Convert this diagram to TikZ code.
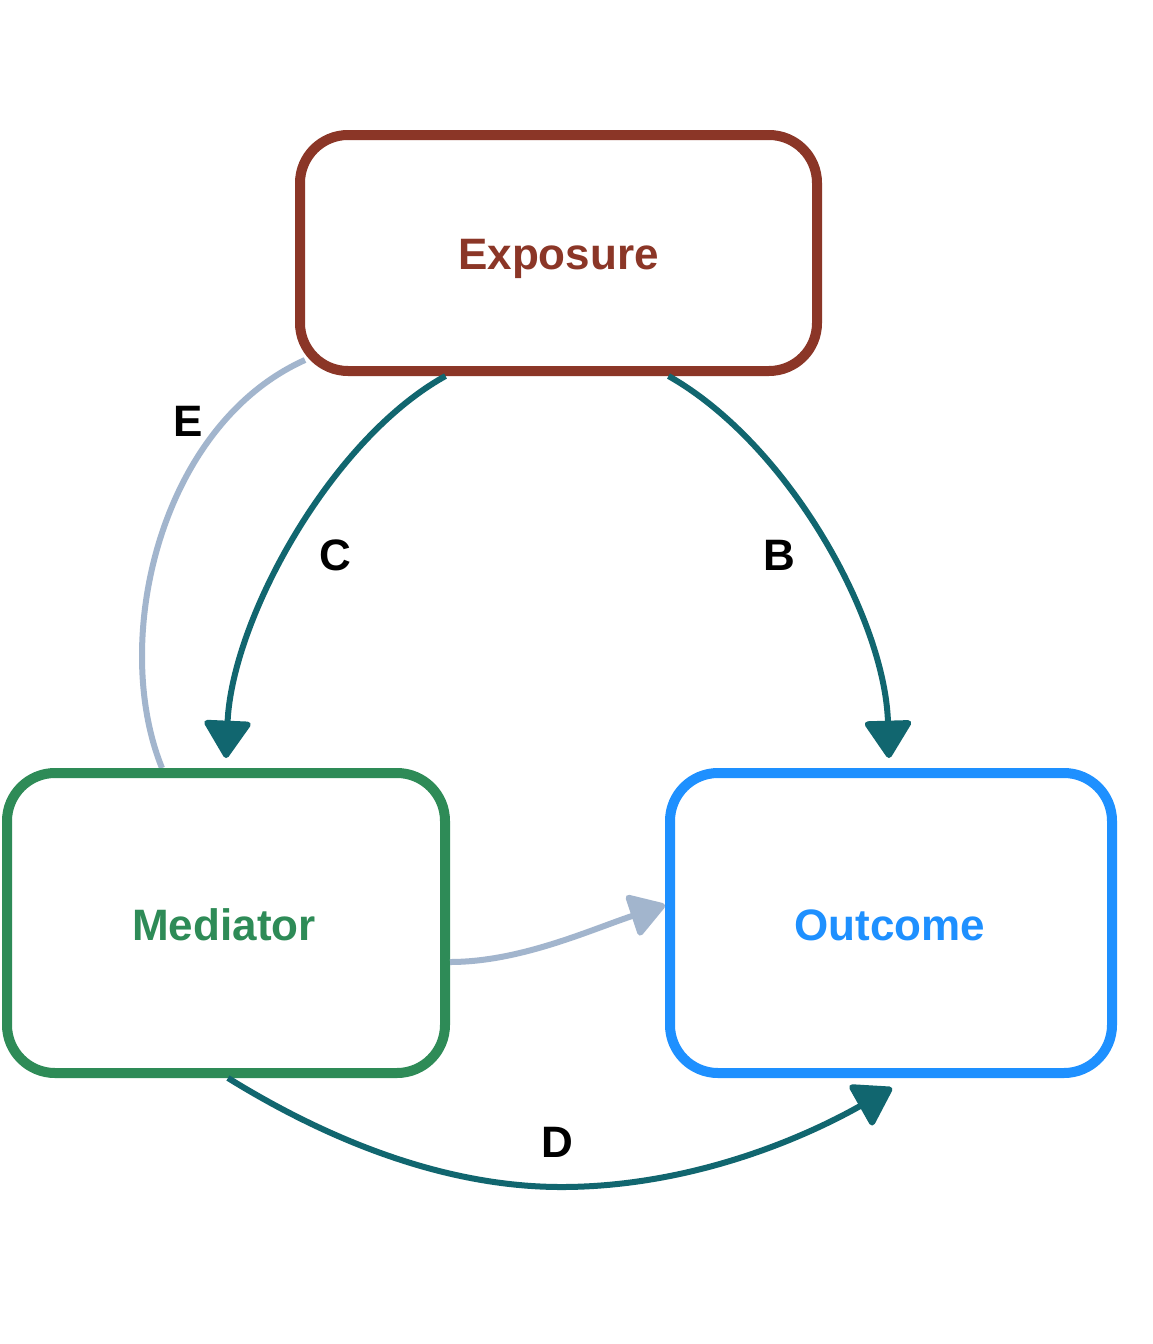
\documentclass[tikz,border=0pt]{standalone}
\usepackage{fontspec}
\setmainfont{Liberation Sans}
\usetikzlibrary{arrows.meta}
\definecolor{expc}{HTML}{8B3627}
\definecolor{medc}{HTML}{2E8B57}
\definecolor{outc}{HTML}{1E90FF}
\definecolor{teal}{HTML}{11666F}
\definecolor{lite}{HTML}{A2B5CD}
\begin{document}
\begin{tikzpicture}[x=1pt,y=-1pt,
  box/.style={draw,line width=10pt,rounded corners=48pt,fill=white,
    font=\fontsize{44}{48}\selectfont\bfseries},
  lbl/.style={font=\fontsize{44}{48}\selectfont\bfseries,text=black},
  main/.style={draw=teal,line width=6pt,
    -{Triangle[length=40pt,width=50pt,round]}},
  light/.style={draw=lite,line width=6pt},
  lighta/.style={light,-{Triangle[length=38pt,width=46pt,round]}}]
\useasboundingbox (0,0) rectangle (1152,1344);
\fill[white] (0,0) rectangle (1152,1344);
% edges behind boxes
\coordinate (eS) at (305,360);
\coordinate (eE) at (162,768);
\draw[light] (eS) .. controls (160,425) and (110,640) .. (eE);
\node[box,draw=expc,minimum width=517pt,minimum height=236pt] (exp) at (558.5,253) {};
\node[box,draw=medc,minimum width=438pt,minimum height=300pt] (med) at (226,923) {};
\node[box,draw=outc,minimum width=442pt,minimum height=300pt] (out) at (891,923) {};
\node[lbl,text=expc] (texp) at (558.5,259) {Exposure};
\node[lbl,text=medc] (tmed) at (224,925) {Mediator};
\node[lbl,text=outc] (tout) at (890,925) {Outcome};
% C
\draw[main] ([xshift=-113pt]exp.south) .. controls (330,440) and (232,620) .. ([xshift=0pt,yshift=10pt]med.north);
% B
\draw[main] ([xshift=110pt]exp.south) .. controls (790,445) and (885,620) .. ([xshift=-2pt,yshift=10pt]out.north);
% Mediator -> Outcome (light)
\draw[lighta] ([yshift=-39pt]med.east) .. controls (520,962) and (590,930) .. ([yshift=18pt]out.west);
% D
\draw[main] ([xshift=2pt]med.south) .. controls (320,1135) and (440,1188) .. (565,1187)
  .. controls (690,1186) and (800,1140) .. ([xshift=1pt,yshift=-10pt]out.south);
% labels
\node[lbl] (lE) at (188,421) {E};
\node[lbl] (lC) at (335,555) {C};
\node[lbl] (lB) at (779,555) {B};
\node[lbl] (lD) at (557,1142) {D};
\end{tikzpicture}
\end{document}
